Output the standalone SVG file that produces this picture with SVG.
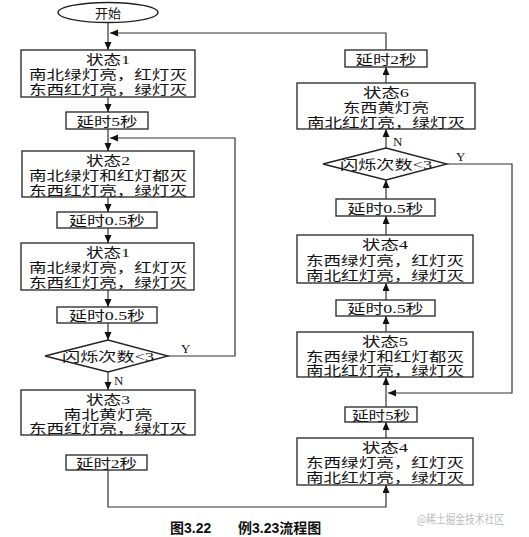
<svg xmlns="http://www.w3.org/2000/svg" width="529" height="537" viewBox="0 0 529 537">
<defs>
<marker id="ah" markerUnits="userSpaceOnUse" markerWidth="8" markerHeight="8" refX="8" refY="3.5" orient="auto">
<path d="M0,0 L8,3.5 L0,7 z" fill="#111"/>
</marker>
<style>
.b{fill:#fff;stroke:#222;stroke-width:1.3}
.t{font-family:"Liberation Serif","Noto Sans CJK SC",serif;font-size:13px;fill:#111;text-anchor:middle}
.c{fill:none;stroke:#333;stroke-width:1.2;marker-end:url(#ah)}
.l{font-family:"Liberation Serif",serif;font-size:13px;fill:#111}
</style>
</defs>
<rect width="529" height="537" fill="#fff"/>

<g id="start"><ellipse class="b" cx="108" cy="12.5" rx="50" ry="10"/><text class="t" x="108" y="17.5">开始</text></g>

<g id="s1a"><rect class="b" x="21" y="50" width="174" height="47"/>
<text class="t" x="108" y="64" textLength="44" lengthAdjust="spacingAndGlyphs">状态1</text>
<text class="t" x="108" y="79" textLength="158" lengthAdjust="spacingAndGlyphs">南北绿灯亮，红灯灭</text>
<text class="t" x="108" y="94" textLength="158" lengthAdjust="spacingAndGlyphs">东西红灯亮，绿灯灭</text></g>

<g id="d5a"><rect class="b" x="66" y="112" width="82" height="17"/><text class="t" x="107" y="125.5" textLength="61" lengthAdjust="spacingAndGlyphs">延时5秒</text></g>

<g id="s2"><rect class="b" x="22" y="151" width="172" height="46"/>
<text class="t" x="108" y="165" textLength="44" lengthAdjust="spacingAndGlyphs">状态2</text>
<text class="t" x="108" y="180" textLength="158" lengthAdjust="spacingAndGlyphs">南北绿灯和红灯都灭</text>
<text class="t" x="108" y="194.5" textLength="158" lengthAdjust="spacingAndGlyphs">东西红灯亮，绿灯灭</text></g>

<g id="d05a"><rect class="b" x="57" y="212" width="100" height="16"/><text class="t" x="107" y="225" textLength="76" lengthAdjust="spacingAndGlyphs">延时0.5秒</text></g>

<g id="s1b"><rect class="b" x="21" y="243" width="173" height="47"/>
<text class="t" x="108" y="257" textLength="44" lengthAdjust="spacingAndGlyphs">状态1</text>
<text class="t" x="108" y="272" textLength="158" lengthAdjust="spacingAndGlyphs">南北绿灯亮，红灯灭</text>
<text class="t" x="108" y="287" textLength="158" lengthAdjust="spacingAndGlyphs">东西红灯亮，绿灯灭</text></g>

<g id="d05b"><rect class="b" x="57" y="307" width="100" height="16"/><text class="t" x="107" y="320" textLength="76" lengthAdjust="spacingAndGlyphs">延时0.5秒</text></g>

<g id="q1"><polygon class="b" points="45,356 108,340 168,356 108,372"/><text class="t" x="108" y="360.5" textLength="92" lengthAdjust="spacingAndGlyphs">闪烁次数&lt;3</text></g>

<g id="s3"><rect class="b" x="21" y="390" width="174" height="45"/>
<text class="t" x="108" y="403.5" textLength="44" lengthAdjust="spacingAndGlyphs">状态3</text>
<text class="t" x="108" y="418.5" textLength="89" lengthAdjust="spacingAndGlyphs">南北黄灯亮</text>
<text class="t" x="108" y="433" textLength="158" lengthAdjust="spacingAndGlyphs">东西红灯亮，绿灯灭</text></g>

<g id="d2a"><rect class="b" x="66" y="455" width="81" height="15"/><text class="t" x="106.5" y="467.5" textLength="61" lengthAdjust="spacingAndGlyphs">延时2秒</text></g>

<g id="d2b"><rect class="b" x="345" y="50" width="82" height="17"/><text class="t" x="386" y="63.5" textLength="61" lengthAdjust="spacingAndGlyphs">延时2秒</text></g>

<g id="s6"><rect class="b" x="297" y="83" width="178" height="46"/>
<text class="t" x="386" y="97" textLength="46" lengthAdjust="spacingAndGlyphs">状态6</text>
<text class="t" x="386" y="112" textLength="86" lengthAdjust="spacingAndGlyphs">东西黄灯亮</text>
<text class="t" x="386" y="126.5" textLength="158" lengthAdjust="spacingAndGlyphs">南北红灯亮，绿灯灭</text></g>

<g id="q2"><polygon class="b" points="323,164 386,148 447,164 386,180"/><text class="t" x="386" y="168.5" textLength="92" lengthAdjust="spacingAndGlyphs">闪烁次数&lt;3</text></g>

<g id="d05c"><rect class="b" x="336" y="199" width="99" height="17"/><text class="t" x="385.5" y="212.5" textLength="76" lengthAdjust="spacingAndGlyphs">延时0.5秒</text></g>

<g id="s4a"><rect class="b" x="297" y="235" width="176" height="48"/>
<text class="t" x="385" y="249" textLength="46" lengthAdjust="spacingAndGlyphs">状态4</text>
<text class="t" x="385" y="264.5" textLength="158" lengthAdjust="spacingAndGlyphs">东西绿灯亮，红灯灭</text>
<text class="t" x="385" y="279.5" textLength="158" lengthAdjust="spacingAndGlyphs">南北红灯亮，绿灯灭</text></g>

<g id="d05d"><rect class="b" x="336" y="300" width="99" height="16"/><text class="t" x="385.5" y="313" textLength="76" lengthAdjust="spacingAndGlyphs">延时0.5秒</text></g>

<g id="s5"><rect class="b" x="297" y="332" width="176" height="45"/>
<text class="t" x="385" y="345.5" textLength="46" lengthAdjust="spacingAndGlyphs">状态5</text>
<text class="t" x="385" y="360.5" textLength="158" lengthAdjust="spacingAndGlyphs">东西绿灯和红灯都灭</text>
<text class="t" x="385" y="375" textLength="158" lengthAdjust="spacingAndGlyphs">南北红灯亮，绿灯灭</text></g>

<g id="d5b"><rect class="b" x="345" y="407" width="72" height="15"/><text class="t" x="381" y="419.5" textLength="58" lengthAdjust="spacingAndGlyphs">延时5秒</text></g>

<g id="s4b"><rect class="b" x="297" y="438" width="176" height="47"/>
<text class="t" x="385" y="451.5" textLength="46" lengthAdjust="spacingAndGlyphs">状态4</text>
<text class="t" x="385" y="467" textLength="158" lengthAdjust="spacingAndGlyphs">东西绿灯亮，红灯灭</text>
<text class="t" x="385" y="482" textLength="158" lengthAdjust="spacingAndGlyphs">南北红灯亮，绿灯灭</text></g>

<g id="connectors">
<path class="c" d="M108,22.5 V50"/>
<path class="c" d="M108,97 V112"/>
<path class="c" d="M108,129 V151"/>
<path class="c" d="M108,197 V212"/>
<path class="c" d="M108,228 V243"/>
<path class="c" d="M108,290 V307"/>
<path class="c" d="M108,323 V340"/>
<path class="c" d="M108,372 V390"/>
<path class="c" d="M168,356 H235 V138 H110"/>
<path class="c" d="M108,470 V507 H386 V485"/>
<path class="c" d="M386,438 V422"/>
<path class="c" d="M386,407 V377"/>
<path class="c" d="M447,164 H512 V393 H388"/>
<path class="c" d="M386,332 V316"/>
<path class="c" d="M386,300 V283"/>
<path class="c" d="M386,235 V216"/>
<path class="c" d="M386,199 V180"/>
<path class="c" d="M386,148 V129"/>
<path class="c" d="M386,83 V67"/>
<path class="c" d="M386,50 V33 H110"/>
<text class="l" x="114" y="385">N</text>
<text class="l" x="181" y="353">Y</text>
<text class="l" x="393" y="146">N</text>
<text class="l" x="456" y="161">Y</text>
</g>

<text x="170" y="533" font-family="Liberation Sans,Noto Sans CJK SC,sans-serif" font-size="14" fill="#111" font-weight="bold"><tspan>图3.22</tspan><tspan x="238">例3.23流程图</tspan></text>
<text x="417" y="524" font-family="Noto Sans CJK SC,Liberation Sans,sans-serif" font-size="12" fill="#bdbdbd" textLength="87" lengthAdjust="spacingAndGlyphs">@稀土掘金技术社区</text>
</svg>
